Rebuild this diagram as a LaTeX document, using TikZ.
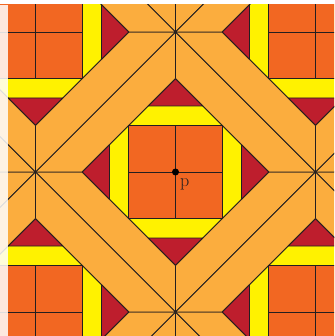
\documentclass[tikz,border=0pt]{standalone}
\definecolor{sqor}{RGB}{242,103,34}
\definecolor{bandor}{RGB}{251,173,62}
\definecolor{yel}{RGB}{255,242,0}
\definecolor{redt}{RGB}{190,30,45}
\definecolor{ink}{RGB}{35,31,32}
\tikzset{
  edge/.style={draw=ink,line width=0.8pt,line join=round},
  bandpiece/.style={edge,fill=bandor},
  yelpiece/.style={edge,fill=yel},
  redpiece/.style={edge,fill=redt},
  sqpiece/.style={edge,fill=sqor},
}
\begin{document}
\begin{tikzpicture}[x=1pt,y=-1pt]
\useasboundingbox (0,0) rectangle (334,336);
\fill[white] (0,0) rectangle (334,336);
\begin{scope}
\clip (0,5) rectangle (334,336);
\foreach \cx/\cy in {175.5/172,-104.5/172,455.5/172,175.5/-108,175.5/452,
                     35.5/32,315.5/32,35.5/312,315.5/312,-104.5/-108,455.5/-108,-104.5/452,455.5/452}{
  \begin{scope}[shift={(\cx,\cy)}]
    \foreach \sx/\sy in {1/1,1/-1,-1/1,-1/-1}{
      \filldraw[bandpiece] (0,\sy*93.3) -- (0,\sy*140) -- (\sx*140,0) -- (\sx*93.3,0) -- cycle;
    }
    \filldraw[yelpiece] (0,-93.3) -- (93.3,0) -- (0,93.3) -- (-93.3,0) -- cycle;
    \filldraw[redpiece] (0,-93.3) -- (27.3,-66) -- (-27.3,-66) -- cycle;
    \filldraw[redpiece] (0,93.3) -- (27.3,66) -- (-27.3,66) -- cycle;
    \filldraw[redpiece] (-93.3,0) -- (-66,27.3) -- (-66,-27.3) -- cycle;
    \filldraw[redpiece] (93.3,0) -- (66,27.3) -- (66,-27.3) -- cycle;
    \filldraw[sqpiece] (-46.7,-46.7) rectangle (46.7,46.7);
    \draw[edge] (0,-46.7) -- (0,46.7);
    \draw[edge] (-46.7,0) -- (46.7,0);
  \end{scope}
}
\end{scope}
\fill[white,opacity=0.85] (0,5) rectangle (8,336);
\node[circle,fill=black,inner sep=0pt,minimum size=7pt] (pdot) at (175.5,172) {};
\node[anchor=base west,inner sep=0pt,font=\fontsize{18}{20}\selectfont,text=ink] (plabel) at (180,186.5) {p};
\end{tikzpicture}
\end{document}
